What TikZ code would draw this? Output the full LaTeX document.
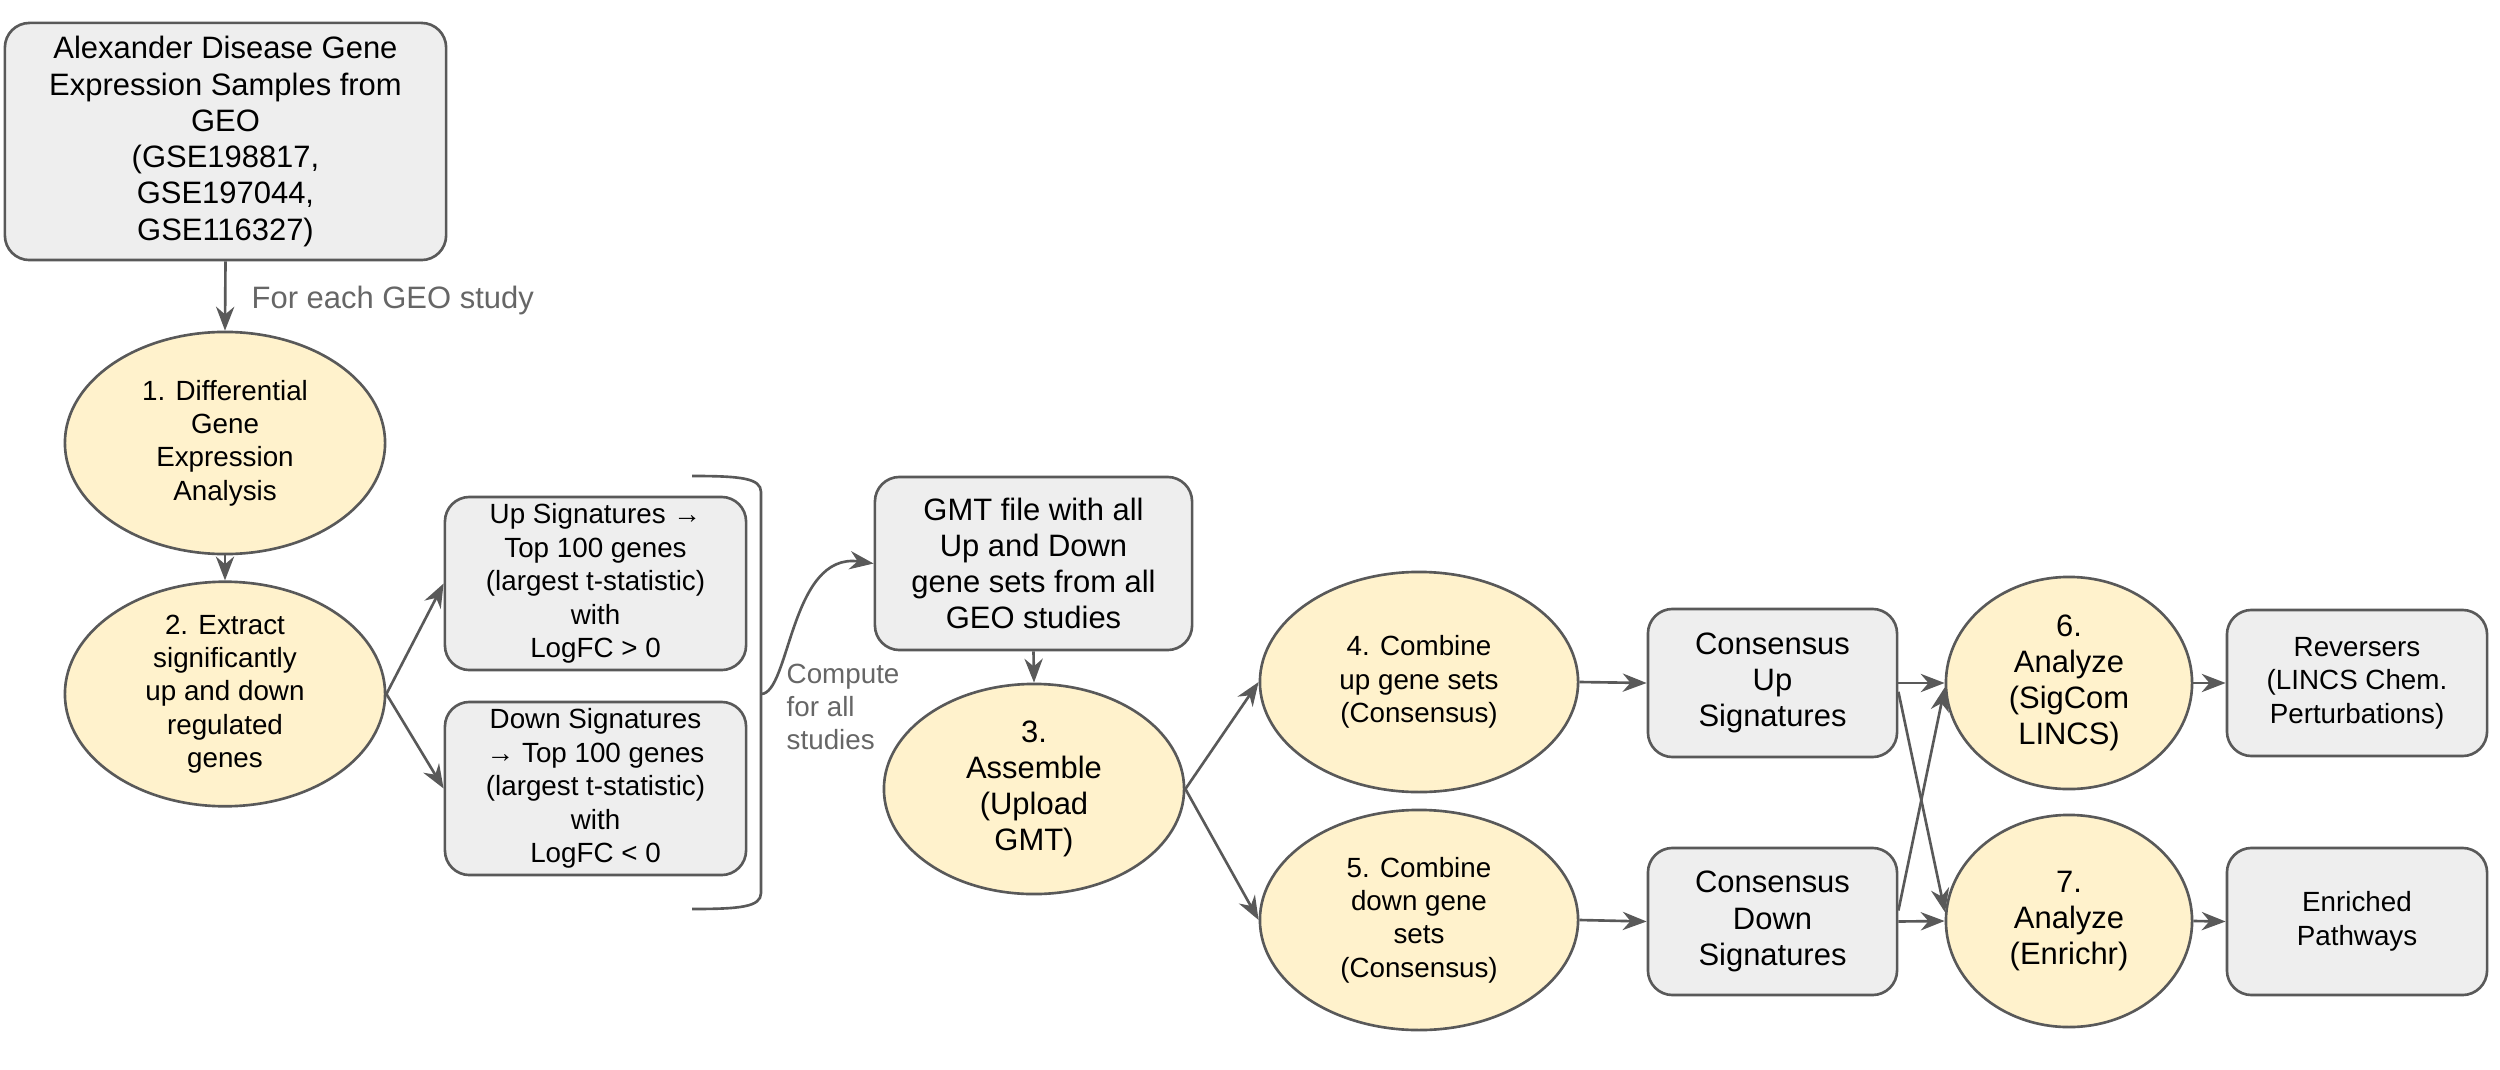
\documentclass[tikz,border=0pt]{standalone}
\usepackage{fontspec}
\setmainfont{Liberation Sans}
\usetikzlibrary{arrows.meta,shapes.geometric}
\definecolor{edgegray}{HTML}{595959}
\definecolor{boxfill}{HTML}{EEEEEE}
\definecolor{ellfill}{HTML}{FFF2CC}
\definecolor{labgray}{HTML}{666666}
\newcommand{\bigtxt}{\fontsize{8.8}{10.3}\selectfont}
\newcommand{\smalltxt}{\fontsize{7.9}{9.5}\selectfont}
\tikzset{
  gbox/.style={draw=edgegray, line width=0.75pt, fill=boxfill, rounded corners=7pt, align=center, inner sep=0pt},
  yell/.style={ellipse, draw=edgegray, line width=0.75pt, fill=ellfill, align=center, inner sep=0pt},
  arr/.style={draw=edgegray, line width=0.75pt, -{Stealth[length=6.8pt,width=5.2pt,inset=2.2pt]}},
  plainline/.style={draw=edgegray, line width=0.75pt},
  lab/.style={text=labgray, inner sep=0pt}
}
\begin{document}
\begin{tikzpicture}[x=0.01cm, y=-0.01cm]
\useasboundingbox (0,0) rectangle (2500,1070);

% nodes
\node[gbox, font=\bigtxt, minimum width=4.41cm, minimum height=2.37cm] (src) at (225.5,141.5)
  {Alexander Disease Gene\\Expression Samples from\\GEO\\(GSE198817,\\GSE197044,\\GSE116327)};
\node[yell, font=\smalltxt, minimum width=3.2cm, minimum height=2.22cm] (e1) at (225,443)
  {1. Differential\\Gene\\Expression\\Analysis};
\node[yell, font=\smalltxt, minimum width=3.2cm, minimum height=2.23cm] (e2) at (225,694)
  {2. Extract\\significantly\\up and down\\regulated\\genes};
\node[gbox, font=\smalltxt, minimum width=3.01cm, minimum height=1.73cm] (up) at (595.5,583.5)
  {Up Signatures →\\Top 100 genes\\(largest t-statistic)\\with\\LogFC > 0};
\node[gbox, font=\smalltxt, minimum width=3.01cm, minimum height=1.73cm] (down) at (595.5,788.5)
  {Down Signatures\\→ Top 100 genes\\(largest t-statistic)\\with\\LogFC < 0};
\node[gbox, font=\bigtxt, minimum width=3.17cm, minimum height=1.73cm] (gmt) at (1033.5,563.5)
  {GMT file with all\\Up and Down\\gene sets from all\\GEO studies};
\node[yell, font=\bigtxt, minimum width=3.0cm, minimum height=2.1cm] (e3) at (1034,789)
  {3.\\Assemble\\(Upload\\GMT)};
\node[yell, font=\smalltxt, minimum width=3.18cm, minimum height=2.2cm] (e4) at (1419,682)
  {4. Combine\\up gene sets\\(Consensus)};
\node[yell, font=\smalltxt, minimum width=3.18cm, minimum height=2.2cm] (e5) at (1419,920)
  {5. Combine\\down gene\\sets\\(Consensus)};
\node[gbox, font=\bigtxt, minimum width=2.49cm, minimum height=1.48cm] (cu) at (1772.5,683)
  {Consensus\\Up\\Signatures};
\node[gbox, font=\bigtxt, minimum width=2.49cm, minimum height=1.47cm] (cd) at (1772.5,921.5)
  {Consensus\\Down\\Signatures};
\node[yell, font=\bigtxt, minimum width=2.46cm, minimum height=2.12cm] (e6) at (2069,683)
  {6.\\Analyze\\(SigCom\\LINCS)};
\node[yell, font=\bigtxt, minimum width=2.46cm, minimum height=2.12cm] (e7) at (2069,921)
  {7.\\Analyze\\(Enrichr)};
\node[gbox, font=\smalltxt, minimum width=2.6cm, minimum height=1.46cm] (rev) at (2357,683)
  {Reversers\\(LINCS Chem.\\Perturbations)};
\node[gbox, font=\smalltxt, minimum width=2.6cm, minimum height=1.47cm] (enr) at (2357,921.5)
  {Enriched\\Pathways};

% labels
\node[lab, font=\bigtxt, anchor=base west] (lfor) at (251,308) {For each GEO study};
\node[lab, font=\smalltxt, align=left, anchor=north west] (lcomp) at (786,663) {Compute\\for all\\studies};

% bracket
\draw[plainline] (692,476) .. controls (740,476) and (761,478) .. (761,492)
  -- (761,893) .. controls (761,907) and (740,909) .. (692,909);
\coordinate (brtip) at (761,694);

% connectors
\draw[arr] (src.south) -- (e1.north);
\draw[arr] (e1.south) -- (e2.north);
\draw[arr] (e2.east) -- (up.west);
\draw[arr] (e2.east) -- (down.west);
\draw[arr] (brtip) .. controls (790,694) and (790,552) .. (gmt.west);
\draw[arr] (gmt.south) -- (e3.north);
\draw[arr] (e3.east) -- (e4.west);
\draw[arr] (e3.east) -- (e5.west);
\draw[arr] (e4.east) -- (cu.west);
\draw[arr] (e5.east) -- (cd.west);
\draw[arr] (cu.east) -- (e6.west);
\draw[arr] (cd.east) -- (e7.west);
\draw[arr] (cu.-4) -- (e7.176);
\draw[arr] (cd.5) -- (e6.182);
\draw[arr] (e6.east) -- (rev.west);
\draw[arr] (e7.east) -- (enr.west);
\end{tikzpicture}
\end{document}
